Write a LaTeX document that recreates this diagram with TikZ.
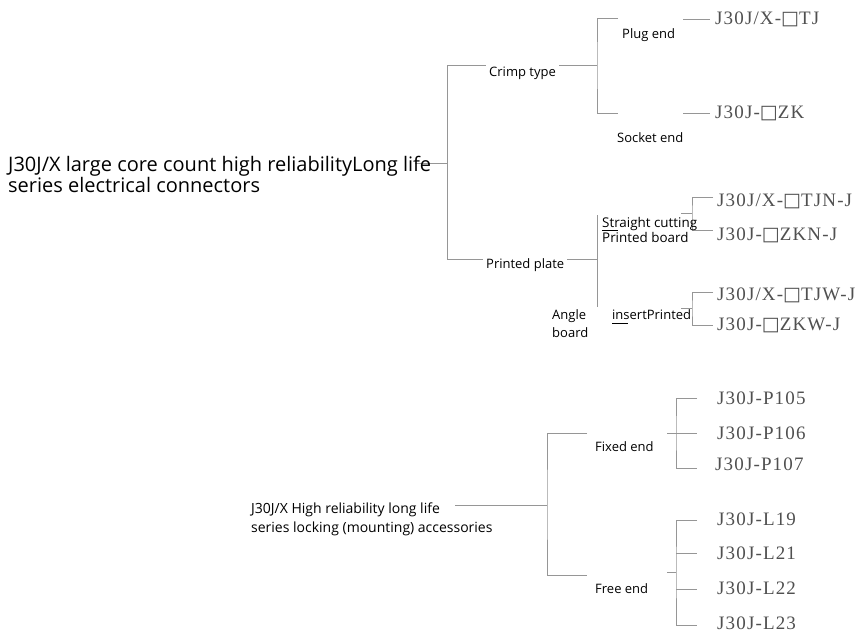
\documentclass[tikz,border=0pt]{standalone}
\usepackage{fontspec}
\setmainfont{Open Sans}
\newfontfamily\codefont{Liberation Serif}
\newfontfamily\boxfont{DejaVu Sans}
\usetikzlibrary{positioning,backgrounds}
\definecolor{wire}{RGB}{150, 150, 150}
\definecolor{codegray}{RGB}{80, 80, 80}
\newcommand{\sqbox}{{\boxfont\char"25A1}}

\begin{document}
\begin{tikzpicture}[x=1pt, y=-1pt,
    lbl/.style={anchor=west, inner sep=1pt, font=\fontsize{13}{16}\selectfont},
    gap/.style={fill=white, inner sep=3pt},
    code/.style={anchor=west, inner sep=0pt, text=codegray, font=\codefont\addfontfeature{LetterSpace=6}\fontsize{19}{22}\selectfont},
    wire/.style={draw=wire, line width=0.8pt},
    stub/.style={draw=black, line width=0.9pt}]
    \useasboundingbox (0,0) rectangle (867,634);

    % connector tree
    \node[anchor=west, inner sep=0pt, align=left, font=\fontsize{20}{21}\selectfont] (conn) at (8,174) {J30J/X large core count high reliabilityLong life\\series electrical connectors};
    \node[lbl, gap] (crimp) at (486,73) {Crimp type};
    \node[lbl, gap] (plate) at (483,265) {Printed plate};
    \node[lbl] (plug) at (621,35) {Plug end};
    \node[lbl] (socket) at (616,138) {Socket end};
    \node[lbl, align=left, font=\fontsize{13.4}{15}\selectfont] (straight) at (601,230) {Straight cutting\\Printed board};
    \node[lbl, align=left, font=\fontsize{13}{18}\selectfont] (angle) at (551,324) {Angle\\board};
    \node[lbl] (insert) at (611,315) {insertPrinted};

    \node[code] (tj) at (715,19) {J30J/X-\sqbox TJ};
    \node[code] (zk) at (715,113) {J30J-\sqbox ZK};
    \node[code] (tjn) at (717,201) {J30J/X-\sqbox TJN-J};
    \node[code] (zkn) at (717,235) {J30J-\sqbox ZKN-J};
    \node[code] (tjw) at (717,295) {J30J/X-\sqbox TJW-J};
    \node[code] (zkw) at (717,325) {J30J-\sqbox ZKW-J};

    % accessories tree
    \node[anchor=west, inner sep=0pt, align=left, font=\fontsize{14}{19}\selectfont] (acc) at (251,519.5) {J30J/X High reliability long life\\series locking (mounting) accessories};
    \node[lbl] (fixed) at (594,447) {Fixed end};
    \node[lbl] (free) at (594,589) {Free end};

    \node[code] (p105) at (717,398) {J30J-P105};
    \node[code] (p106) at (717,433) {J30J-P106};
    \node[code] (p107) at (715,464) {J30J-P107};
    \node[code] (l19) at (717,519) {J30J-L19};
    \node[code] (l21) at (717,553) {J30J-L21};
    \node[code] (l22) at (717,588) {J30J-L22};
    \node[code] (l23) at (717,623) {J30J-L23};

    \coordinate (j1) at (447,163);
    \coordinate (j2) at (597,65);
    \coordinate (j3) at (597,259);
    \coordinate (j4) at (692,213);
    \coordinate (j5) at (692,308);
    \coordinate (j6) at (547,505);
    \coordinate (j7) at (676,433);
    \coordinate (j8) at (676,572);

    \begin{scope}[on background layer]
    \draw[wire] (conn.east) ++(-16,-11) -- (j1);
    \draw[wire] (j2) -- (j2 -| j1) -- (j3 -| j1) -- (j3);
    \draw[wire] (j2) ++(21,-47) -| (j2) -- ++(0,48) -- ++(21,0);
    \draw[wire] (tj.west) ++(-32,0) -- ++(27,0);
    \draw[wire] (zk.west) ++(-32,0) -- ++(27,0);
    \draw[wire] (j3) ++(0,-44) -- ++(0,92);
    \draw[wire] (j4) ++(21,-16) -| (j4) -- ++(0,17) -- ++(21,0);
    \draw[wire] (j4) -- ++(-11,0);
    \draw[wire] (j5) ++(21,-16) -| (j5) -- ++(0,17) -- ++(21,0);
    \draw[wire] (j5) -- ++(-11,0);

    \draw[wire] (j6) -- ++(-92,0);
    \draw[wire] (j6) ++(40,-72) -| (j6) -- ++(0,70) -- ++(40,0);
    \draw[wire] (j7) ++(21,-35) -| (j7) -- ++(0,35) -- ++(21,0);
    \draw[wire] (j7) ++(-9,0) -- ++(30,0);
    \draw[wire] (j8) ++(21,-52) -| (j8) -- ++(0,53) -- ++(21,0);
    \draw[wire] (j8) ++(0,-19) -- ++(21,0);
    \draw[wire] (j8) ++(0,17) -- ++(21,0);
    \draw[wire] (j8) -- ++(-9,0);
    \end{scope}

    \draw[stub] (straight.west) ++(1,0) -- ++(16,0);
    \draw[stub] (insert.west) ++(1,8) -- ++(16,0);
\end{tikzpicture}
\end{document}
